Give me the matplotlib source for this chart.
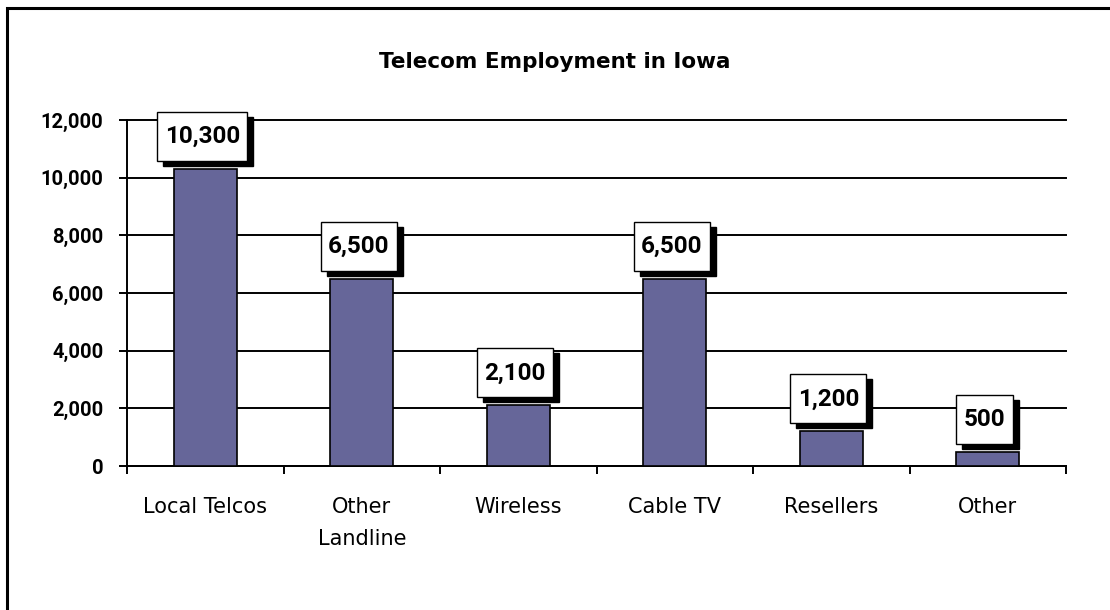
import numpy as np
import matplotlib
matplotlib.use("Agg")
import matplotlib.pyplot as plt
from matplotlib.patches import Rectangle
from matplotlib.transforms import IdentityTransform

# datos
categorias = ["Local Telcos", "Other\nLandline", "Wireless", "Cable TV", "Resellers", "Other"]
empleo = [10300, 6500, 2100, 6500, 1200, 500]
etiquetas = ["10,300", "6,500", "2,100", "6,500", "1,200", "500"]
y_ticks = [0, 2000, 4000, 6000, 8000, 10000, 12000]

W, H, DPI = 1110, 610, 100
fig = plt.figure(figsize=(W / DPI, H / DPI), dpi=DPI)
ax = fig.add_axes([127 / W, 1 - 466 / H, (1066 - 127) / W, (466 - 120) / H])

x = np.arange(len(categorias))
ax.bar(x, empleo, width=0.40, color="#666699", edgecolor="black", linewidth=1.2, zorder=3)

ax.set_xlim(-0.5, len(categorias) - 0.5)
ax.set_ylim(0, 12000)

# ejes y rejilla
ax.set_yticks(y_ticks)
ax.set_yticklabels([f"{v:,}" for v in y_ticks], fontfamily="Roboto",
                   fontweight="bold", fontsize=14.5)
ax.yaxis.grid(True, color="black", linewidth=1.4)
for linea in ax.get_ygridlines():
    linea.set_clip_on(False)
ax.set_axisbelow(True)
ax.tick_params(axis="y", length=6, width=1.4, pad=11, color="black")

ax.set_xticks(np.arange(-0.5, len(categorias), 1))
ax.set_xticklabels([])
ax.set_xticks(x, minor=True)
ax.set_xticklabels(categorias, minor=True, fontfamily="DejaVu Sans", fontsize=15,
                   linespacing=1.75)
ax.tick_params(axis="x", which="major", length=6, width=1.4, direction="out")
ax.tick_params(axis="x", which="minor", length=0, pad=22)

for s in ["top", "right"]:
    ax.spines[s].set_visible(False)
for s in ["left", "bottom"]:
    ax.spines[s].set_linewidth(1.4)

fig.text(0.5, 1 - 62 / H, "Telecom Employment in Iowa", ha="center", va="center",
         fontfamily="DejaVu Sans", fontweight="bold", fontsize=15.5)

# marco
fig.add_artist(Rectangle((7 / W, -0.1), 1.2, 1 - 8 / H + 0.1, transform=fig.transFigure,
                         fill=False, edgecolor="black", linewidth=2.2, clip_on=False))

# etiquetas con sombra
fig.canvas.draw()
renderer = fig.canvas.get_renderer()
alto_caja = 49
for xi, v, lab in zip(x, empleo, etiquetas):
    px, py = ax.transData.transform((xi, v))
    cx = px - 3
    cy = py + 8 + alto_caja / 2
    t = fig.text(cx, cy, lab, transform=IdentityTransform(), ha="center", va="center",
                 fontfamily="Roboto", fontweight="bold", fontsize=17.5, zorder=5)
    ancho = t.get_window_extent(renderer).width + 15
    x0, y0 = cx - ancho / 2, cy - alto_caja / 2
    fig.add_artist(Rectangle((x0 + 6, y0 - 5), ancho, alto_caja, transform=IdentityTransform(),
                             facecolor="black", edgecolor="black", zorder=3))
    fig.add_artist(Rectangle((x0, y0), ancho, alto_caja, transform=IdentityTransform(),
                             facecolor="white", edgecolor="black", linewidth=1.0, zorder=4))

fig.savefig("out.png", dpi=DPI)
